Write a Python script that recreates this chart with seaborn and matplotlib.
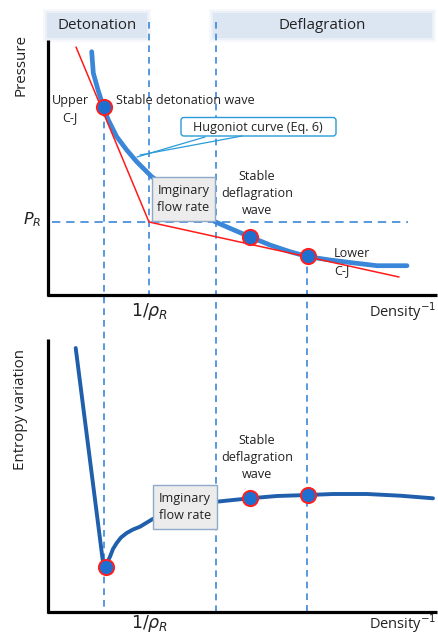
import matplotlib
matplotlib.use("Agg")
import matplotlib.pyplot as plt
from matplotlib.patches import FancyBboxPatch, Rectangle
import seaborn as sns
import pandas as pd

# ---- data (schematic, figure pixel coordinates) ----
hug_x = [91.7, 93.3, 98, 103.3, 108.3, 116.7, 126.7, 136.7, 145, 151.7, 185,
         215, 230, 248, 270, 290, 308, 330, 350, 377, 407]
hug_y = [51.7, 73, 90, 106.7, 120, 136.7, 150, 161.7, 170, 176.7, 200,
         221.7, 228.3, 236, 245, 251.7, 256.7, 260, 262.5, 265.7, 265.7]
ray_x = [76, 149, 399]
ray_y = [47, 222, 277]
ent_x = [75.7, 102.7, 106, 110, 113, 116.7, 121, 126.7, 133, 140, 152.7, 185, 216.7, 233, 250,
         277, 308, 333, 367, 400, 433]
ent_y = [348, 560, 565, 556.7, 549, 543, 537.5, 533, 529.5, 526.7, 519, 510, 501.7, 500, 498.3,
         496, 495, 494, 494, 495.7, 498.3]
top_pts_x = [104, 250, 308]
top_pts_y = [107, 237, 256]
bot_pts_x = [106, 250, 308]
bot_pts_y = [567, 498, 495]
vlines_x = [104, 149, 216, 307]
vlines_top = [110, 22, 22, 255]
vlines_bot = [612, 296, 612, 612]
pr_y = 222

sns.set_theme(style="white")
plt.rcParams['font.family'] = ['Open Sans', 'DejaVu Sans']

fig = plt.figure(figsize=(4.38, 6.36), dpi=100)
ax = fig.add_axes([0, 0, 1, 1])

blue = '#3a86d8'
dblue = '#1f5fab'
dash = '#3b87d8'
tc = '#222222'
fs = 9.1

# header boxes
for x0, x1, lab in [(47, 147, 'Detonation'), (213, 432, 'Deflagration')]:
    for pad, a in [(4, 0.25), (2, 0.4), (0, 1.0)]:
        ax.add_patch(Rectangle((x0 - pad, 13 - pad), x1 - x0 + 2 * pad, 25 + 2 * pad,
                               facecolor='#dce6f3', edgecolor='none', alpha=a, zorder=1))
    ax.text((x0 + x1) / 2, 25.5, lab, ha='center', va='center', fontsize=10.9, color=tc, zorder=3)

# axes lines
ax.plot([48, 48], [40, 296], color='black', lw=2.3, solid_capstyle='butt', zorder=4)
ax.plot([47, 437], [295, 295], color='black', lw=2.3, solid_capstyle='butt', zorder=4)
ax.plot([48, 48], [339, 613], color='black', lw=2.3, solid_capstyle='butt', zorder=4)
ax.plot([47, 437], [612, 612], color='black', lw=2.3, solid_capstyle='butt', zorder=4)

# dashed guides
for xv, y0, y1 in zip(vlines_x, vlines_top, vlines_bot):
    ax.plot([xv, xv], [y0, y1], color=dash, lw=1.2, dashes=(4, 3), zorder=2)
ax.plot([52, 408], [pr_y, pr_y], color=dash, lw=1.2, dashes=(5, 3.5), zorder=2)

# curves
sns.lineplot(data=pd.DataFrame({'x': hug_x, 'y': hug_y}), x='x', y='y', sort=False,
             estimator=None, color=blue, lw=3.4, ax=ax, zorder=5)
sns.lineplot(data=pd.DataFrame({'x': ray_x, 'y': ray_y}), x='x', y='y', sort=False,
             estimator=None, color='#ff1a1a', lw=1.1, ax=ax, zorder=6)
sns.lineplot(data=pd.DataFrame({'x': ent_x, 'y': ent_y}), x='x', y='y', sort=False,
             estimator=None, color=dblue, lw=2.8, ax=ax, zorder=5)

# points
sns.scatterplot(x=top_pts_x, y=top_pts_y, s=120, color='#1f6fd0', edgecolor='#ff2020',
                linewidth=1.4, ax=ax, zorder=8)
sns.scatterplot(x=bot_pts_x, y=bot_pts_y, s=120, color='#1f6fd0', edgecolor='#ff2020',
                linewidth=1.4, ax=ax, zorder=8)

# imaginary flow rate boxes
for x0, y0, x1, y1 in [(152, 177, 215, 221), (153, 485, 217, 529)]:
    ax.add_patch(Rectangle((x0, y0), x1 - x0, y1 - y0, facecolor='#ececec',
                           edgecolor='#8fa9c8', lw=1.0, zorder=7))
    ax.text((x0 + x1) / 2, (y0 + y1) / 2, 'Imginary\nflow rate', ha='center', va='center',
            fontsize=fs, color=tc, linespacing=1.35, zorder=9)

# Hugoniot callout
ax.add_patch(FancyBboxPatch((181, 117.5), 155, 18.5, boxstyle='round,pad=0,rounding_size=3',
                            facecolor='white', edgecolor='#2a9bd8', lw=1.0, zorder=7))
ax.text(258, 127, 'Hugoniot curve (Eq. 6)', ha='center', va='center', fontsize=fs,
        color=tc, zorder=9)
ax.plot([205, 137], [137, 157], color='#2a9bd8', lw=0.9, zorder=7)
ax.plot([242, 140], [136, 155], color='#2a9bd8', lw=0.9, zorder=7)

# text labels
ax.text(70, 109, 'Upper\nC-J', ha='center', va='center', fontsize=fs, color=tc,
        linespacing=1.4, zorder=9)
ax.text(116, 101, 'Stable detonation wave', ha='left', va='center', fontsize=fs,
        color=tc, zorder=9)
ax.text(257, 193, 'Stable\ndeflagration\nwave', ha='center', va='center', fontsize=fs,
        color=tc, linespacing=1.4, zorder=9)
ax.text(334, 262, 'Lower\nC-J', ha='left', va='center', fontsize=fs, color=tc,
        linespacing=1.4, zorder=9)
ax.text(257, 458, 'Stable\ndeflagration\nwave', ha='center', va='center', fontsize=fs,
        color=tc, linespacing=1.4, zorder=9)

ax.text(32, 220, r'$P_R$', ha='center', va='center', fontsize=11.5, color=tc, zorder=9)
ax.text(150, 312, r'$1/\rho_R$', ha='center', va='center', fontsize=12.5, color=tc, zorder=9)
ax.text(150, 623, r'$1/\rho_R$', ha='center', va='center', fontsize=12.5, color=tc, zorder=9)
ax.text(436, 312, r'Density$^{-1}$', ha='right', va='center', fontsize=10.5, color=tc, zorder=9)
ax.text(436, 624, r'Density$^{-1}$', ha='right', va='center', fontsize=10.5, color=tc, zorder=9)

ax.text(21, 65, 'Pressure', rotation=90, ha='center', va='center', fontsize=10.9,
        color=tc, zorder=9)
ax.text(21, 410, 'Entropy variation', rotation=90, ha='center', va='center', fontsize=10.9,
        color=tc, zorder=9)

ax.set_xlim(0, 438)
ax.set_ylim(636, 0)
ax.axis('off')

fig.savefig('out.png', dpi=100)
